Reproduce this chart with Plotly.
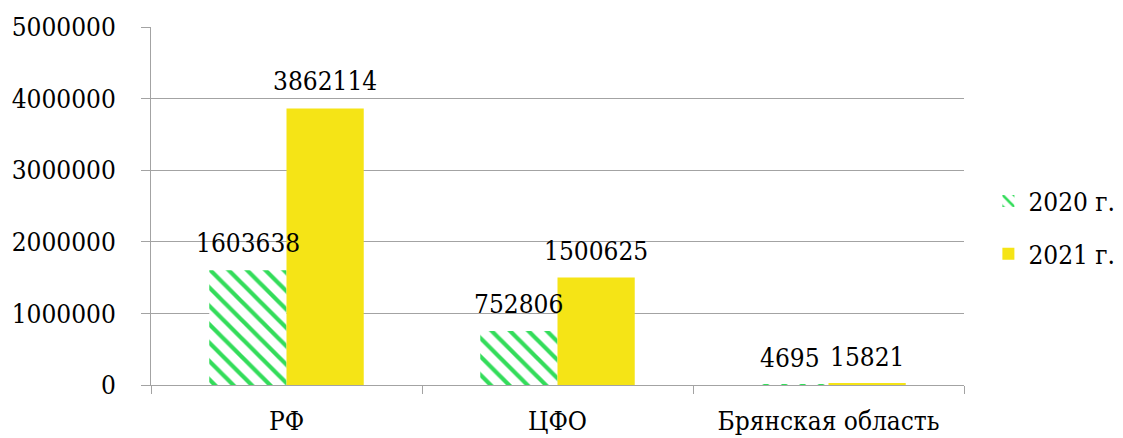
import plotly.graph_objects as go

# Categories and values
categories = ["РФ", "ЦФО", "Брянская область"]
values_2020 = [1603638, 752806, 4695]
values_2021 = [3862114, 1500625, 15821]
series_names = ["2020 г.", "2021 г."]

y_ticks = [0, 1000000, 2000000, 3000000, 4000000, 5000000]

FONT = "DejaVu Serif Condensed, DejaVu Serif"
FONT_SIZE = 26
GREEN = "#33dc5a"
YELLOW = "#f5e416"
GRID = "#a3a3a3"

W, H = 1123, 438
M_L, M_R, M_T, M_B = 151, 159, 27, 53
BARGAP = 0.43

fig = go.Figure()
fig.add_trace(go.Bar(
    name=series_names[0], x=categories, y=values_2020, legendgroup="a",
    marker=dict(color="white", line=dict(width=0),
                pattern=dict(shape="\\", fgcolor=GREEN, bgcolor="white",
                             size=13, solidity=0.32, fillmode="replace")),
))
fig.add_trace(go.Bar(
    name=series_names[1], x=categories, y=values_2021, legendgroup="b",
    marker=dict(color=YELLOW, line=dict(width=0)),
))

# value labels above each bar
cat_px = (W - M_L - M_R) / len(categories)
bar_px = cat_px * (1 - BARGAP) / 2
annotations = []
for sign, vals in ((-1, values_2020), (1, values_2021)):
    for c, v in zip(categories, vals):
        annotations.append(dict(
            x=c, y=v, xref="x", yref="y", text=str(v), showarrow=False,
            xshift=sign * bar_px / 2, yshift=10, yanchor="bottom",
            font=dict(family=FONT, size=FONT_SIZE, color="black"),
        ))

fig.update_layout(
    width=W, height=H,
    margin=dict(l=M_L, r=M_R, t=M_T, b=M_B, pad=0, autoexpand=False),
    paper_bgcolor="white", plot_bgcolor="white",
    barmode="group", bargap=BARGAP, bargroupgap=0,
    font=dict(family=FONT, size=FONT_SIZE, color="black"),
    annotations=annotations,
    legend=dict(x=1.03, y=0.44, xanchor="left", yanchor="middle",
                font=dict(family=FONT, size=FONT_SIZE),
                itemwidth=30, tracegroupgap=16, bgcolor="rgba(0,0,0,0)"),
    showlegend=True,
)
fig.update_xaxes(
    showline=True, linecolor=GRID, linewidth=1,
    ticks="outside", tickson="boundaries", ticklen=8, tickcolor=GRID,
    showgrid=False, ticklabelstandoff=13, automargin=False, tickangle=0,
    tickfont=dict(family=FONT, size=FONT_SIZE),
)
fig.update_yaxes(
    range=[0, 5000000], tickvals=y_ticks, tickformat="d",
    showline=True, linecolor=GRID, linewidth=1,
    ticks="outside", ticklen=9, tickcolor=GRID,
    showgrid=True, gridcolor=GRID, gridwidth=1,
    zeroline=False, ticklabelstandoff=20, automargin=False,
    tickfont=dict(family=FONT, size=FONT_SIZE),
)

fig.write_html("out.html")
